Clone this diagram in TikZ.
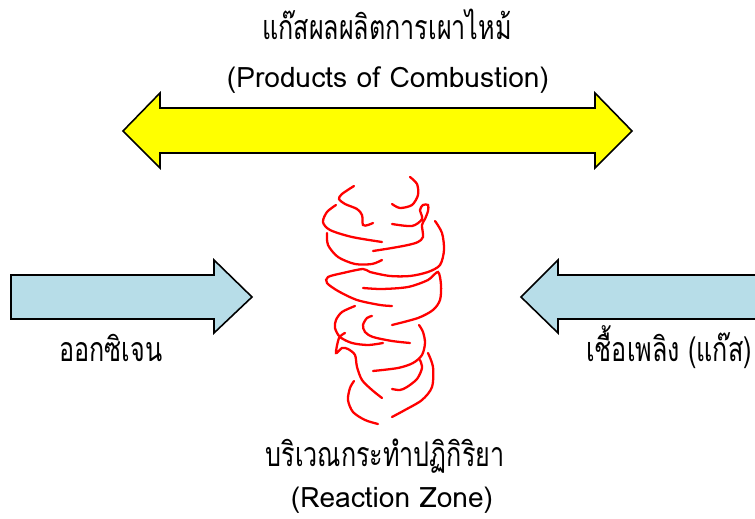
\documentclass[tikz,border=0pt]{standalone}
\usepackage{fontspec}
\setmainfont{Loma}[Script=Thai]
\usepackage{xcolor}
\definecolor{flameyellow}{RGB}{255, 255, 0}
\definecolor{feedblue}{RGB}{183, 221, 232}
\definecolor{flamered}{RGB}{255, 0, 0}
\usetikzlibrary{positioning}
% tall, narrow Thai lettering
\newcommand{\tallthai}[1]{\scalebox{1}[1.35]{#1}}

\begin{document}
\begin{tikzpicture}[x=0.02cm, y=-0.02cm,
      capt/.style={font=\fontsize{14.3}{17}\selectfont, inner sep=0pt, anchor=base},
      capten/.style={font=\fontsize{16}{19}\selectfont, inner sep=0pt, anchor=base},
      yarrow/.style={draw=black, fill=flameyellow, line width=0.9pt},
      barrow/.style={draw=black, fill=feedblue, line width=0.9pt},
      flame/.style={draw=flamered, line width=1.3pt, line cap=round}
  ]
    \clip (0,0) rectangle (755,519);

    % Captions
    \node[capt] (prodth) at (387,40) {\tallthai{แก๊สผลผลิตการเผาไหม้}};
    \node[capten] (proden) at (388,88) {(Products of Combustion)};
    \node[capt] (oxy) at (111,362) {\tallthai{ออกซิเจน}};
    \node[capt] (fuel) at (669,362) {\tallthai{เชื้อเพลิง (แก๊ส)}};
    \node[capt] (zoneth) at (385,467) {\tallthai{บริเวณกระทำปฏิกิริยา}};
    \node[capten] (zoneen) at (392,508) {(Reaction Zone)};

    % Products (double arrow)
    \draw[yarrow] (123,131) -- (160,93) -- (160,108) -- (595,108) -- (595,93) -- (632,131)
      -- (595,168) -- (595,153) -- (160,153) -- (160,168) -- cycle;

    % Oxygen and fuel in
    \draw[barrow] (11,275) -- (214,275) -- (214,260) -- (252,297) -- (214,333) -- (214,319) -- (11,319) -- cycle;
    \draw[barrow] (521,297) -- (558,260) -- (558,275) -- (762,275) -- (762,319) -- (558,319) -- (558,333) -- cycle;

    % Reaction zone
    \draw[flame] plot[smooth] coordinates {(354,186) (342,194) (339,199) (345,204) (357,209) (362,215) (363,225) (368,225) (373,223)};
    \draw[flame] plot[smooth] coordinates {(410,177) (417,184) (418,195) (412,205) (400,208) (392,204)};
    \draw[flame] plot[smooth] coordinates {(336,205) (327,212) (323,222) (330,230) (352,237) (382,242)};
    \draw[flame] plot[smooth] coordinates {(392,224) (412,226) (422,219) (420,210) (423,205) (428,205) (428,211) (425,219) (422,225) (423,237) (418,242) (408,245) (392,248) (373,251)};
    \draw[flame] plot[smooth] coordinates {(327,233) (328,245) (338,257) (355,264) (372,264) (382,260)};
    \draw[flame] plot[smooth] coordinates {(435,221) (442,233) (444,250) (440,265) (428,272) (410,276) (390,276) (370,272) (363,269) (343,273) (328,277) (327,283) (338,291) (357,300) (380,305) (392,306)};
    \draw[flame] plot[smooth] coordinates {(363,288) (382,289) (408,287) (428,280) (438,272) (441,285) (440,300) (433,310) (418,318) (392,325)};
    \draw[flame] plot[smooth] coordinates {(355,306) (342,312) (336,320) (335,328) (340,337) (352,343) (368,345) (383,343)};
    \draw[flame] plot[smooth] coordinates {(372,316) (367,318) (363,325) (365,332) (373,337) (392,341) (410,343)};
    \draw[flame] plot[smooth] coordinates {(419,325) (423,332) (425,343) (422,355) (413,363) (398,368) (373,371)};
    \draw[flame] plot[smooth] coordinates {(345,333) (339,338) (336,353) (342,348) (348,349) (355,355) (357,367) (362,380) (372,390) (382,398)};
    \draw[flame] plot[smooth] coordinates {(420,360) (422,368) (417,379) (407,387) (400,390) (392,389)};
    \draw[flame] plot[smooth] coordinates {(428,353) (433,367) (432,387) (422,400) (405,410) (392,417)};
    \draw[flame] plot[smooth] coordinates {(354,381) (350,388) (348,400) (353,412) (365,420) (378,424)};
  \end{tikzpicture}
\end{document}
